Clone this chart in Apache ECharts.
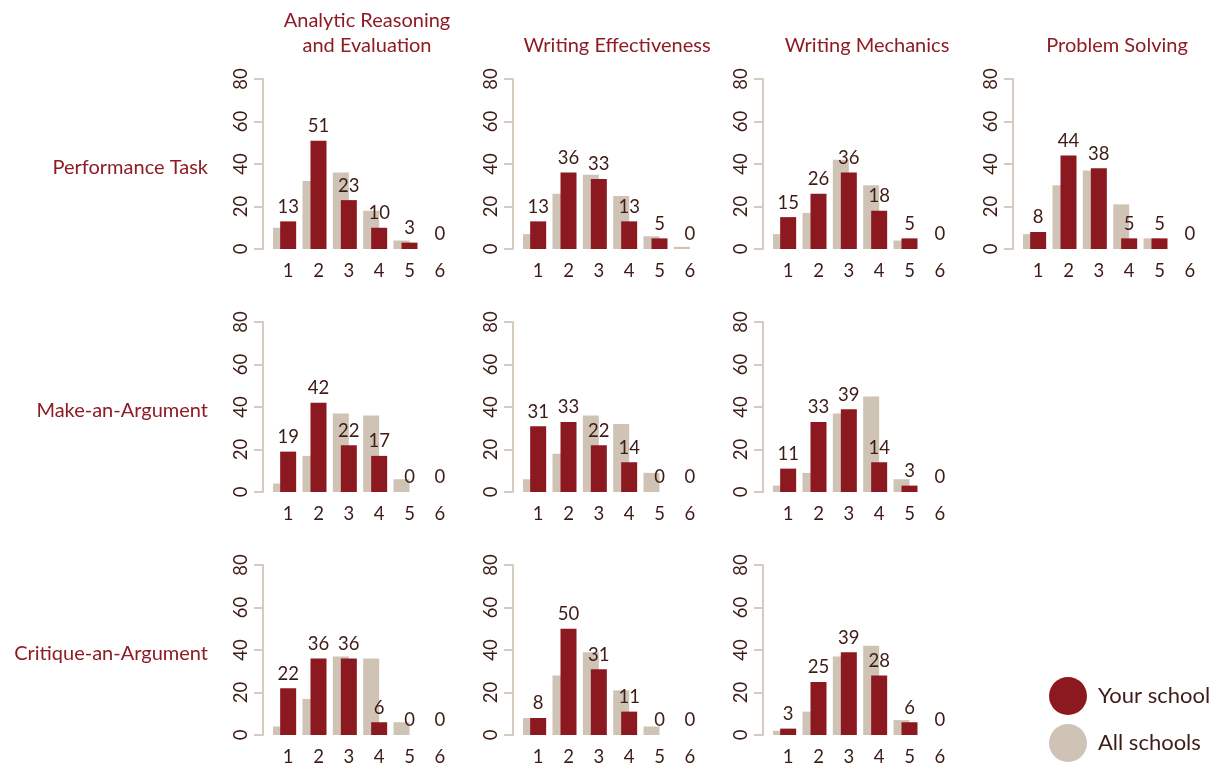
<!DOCTYPE html>
<html>
<head>
<meta charset="utf-8">
<script src="https://cdn.jsdelivr.net/npm/echarts@6/dist/echarts.min.js"></script>
<style>
html,body{margin:0;padding:0;background:#fff;}
#chart{width:1218px;height:768px;}
</style>
</head>
<body>
<div id="chart"></div>
<script>
// ---- data ----
const scoreLevels = ['1', '2', '3', '4', '5', '6'];
const columnTitles = ['Analytic Reasoning\nand Evaluation', 'Writing Effectiveness', 'Writing Mechanics', 'Problem Solving'];
const rowTitles = ['Performance Task', 'Make-an-Argument', 'Critique-an-Argument'];
const legendNames = ['Your school', 'All schools'];

// Performance Task
const ptAnalyticYour = [13, 51, 23, 10, 3, 0];
const ptAnalyticAll  = [10, 32, 36, 18, 4, 0];
const ptWritEffYour  = [13, 36, 33, 13, 5, 0];
const ptWritEffAll   = [7, 26, 35, 25, 6, 1];
const ptWritMechYour = [15, 26, 36, 18, 5, 0];
const ptWritMechAll  = [7, 17, 42, 30, 4, 0];
const ptProblemYour  = [8, 44, 38, 5, 5, 0];
const ptProblemAll   = [7, 30, 37, 21, 5, 0];
// Make-an-Argument
const maAnalyticYour = [19, 42, 22, 17, 0, 0];
const maAnalyticAll  = [4, 17, 37, 36, 6, 0];
const maWritEffYour  = [31, 33, 22, 14, 0, 0];
const maWritEffAll   = [6, 18, 36, 32, 9, 0];
const maWritMechYour = [11, 33, 39, 14, 3, 0];
const maWritMechAll  = [3, 9, 37, 45, 6, 0];
// Critique-an-Argument
const caAnalyticYour = [22, 36, 36, 6, 0, 0];
const caAnalyticAll  = [4, 17, 37, 36, 6, 0];
const caWritEffYour  = [8, 50, 31, 11, 0, 0];
const caWritEffAll   = [8, 28, 39, 21, 4, 0];
const caWritMechYour = [3, 25, 39, 28, 6, 0];
const caWritMechAll  = [2, 11, 37, 42, 7, 0];

const panels = [
  {row: 0, col: 0, your: ptAnalyticYour, all: ptAnalyticAll},
  {row: 0, col: 1, your: ptWritEffYour, all: ptWritEffAll},
  {row: 0, col: 2, your: ptWritMechYour, all: ptWritMechAll},
  {row: 0, col: 3, your: ptProblemYour, all: ptProblemAll},
  {row: 1, col: 0, your: maAnalyticYour, all: maAnalyticAll},
  {row: 1, col: 1, your: maWritEffYour, all: maWritEffAll},
  {row: 1, col: 2, your: maWritMechYour, all: maWritMechAll},
  {row: 2, col: 0, your: caAnalyticYour, all: caAnalyticAll},
  {row: 2, col: 1, your: caWritEffYour, all: caWritEffAll},
  {row: 2, col: 2, your: caWritMechYour, all: caWritMechAll}
];

// ---- style ----
const RED = '#8c1820';
const GRAY = '#cfc3b6';
const AXIS = '#d6cbbf';
const TEXT = '#3d1c16';
const TITLE = '#8e1c24';
const FONT = 'Lato, "Noto Sans", sans-serif';
const NUM_SIZE = 18.5;

const gridLeft0 = 273, colStep = 250, gridW = 182;
const gridTop0 = 79, rowStep = 243, gridH = 170;

const grids = [], xAxes = [], yAxes = [], series = [];
panels.forEach((p, i) => {
  grids.push({left: gridLeft0 + colStep * p.col, top: gridTop0 + rowStep * p.row, width: gridW, height: gridH});
  xAxes.push({
    type: 'category', gridIndex: i, data: scoreLevels,
    axisLine: {show: false}, axisTick: {show: false},
    axisLabel: {color: TEXT, fontSize: NUM_SIZE, fontFamily: FONT, margin: 13}
  });
  yAxes.push({
    type: 'value', gridIndex: i, min: 0, max: 80, interval: 20, offset: 10,
    axisLine: {show: true, lineStyle: {color: AXIS, width: 2}},
    axisTick: {show: true, length: 9, lineStyle: {color: AXIS, width: 2}},
    splitLine: {show: false},
    axisLabel: {rotate: 90, color: TEXT, fontSize: NUM_SIZE, fontFamily: FONT, margin: 12}
  });
  series.push({
    name: legendNames[1], type: 'bar', xAxisIndex: i, yAxisIndex: i, data: p.all,
    barWidth: 16, barGap: '-50%', itemStyle: {color: GRAY}, silent: true
  });
  series.push({
    name: legendNames[0], type: 'bar', xAxisIndex: i, yAxisIndex: i, data: p.your,
    barWidth: 16, barGap: '-50%', itemStyle: {color: RED}, silent: true,
    label: {show: true, position: 'top', distance: 5, color: TEXT, fontSize: NUM_SIZE, fontFamily: FONT}
  });
  // empty spacer so the red bar sits centred on its category and the gray one peeks out on the left
  series.push({
    name: 'spacer', type: 'bar', xAxisIndex: i, yAxisIndex: i, data: scoreLevels.map(() => '-'),
    barWidth: 16, barGap: '-50%', silent: true
  });
});

const graphics = [];
columnTitles.forEach((t, c) => {
  const twoLines = t.indexOf('\n') >= 0;
  graphics.push({
    type: 'text', x: gridLeft0 + colStep * c + gridW / 2 + 3, y: twoLines ? 33 : 46,
    style: {text: t, fill: TITLE, fontSize: 20, fontFamily: FONT, align: 'center', verticalAlign: 'middle', lineHeight: 25}
  });
});
rowTitles.forEach((t, r) => {
  graphics.push({
    type: 'text', x: 208, y: 168 + rowStep * r,
    style: {text: t, fill: TITLE, fontSize: 20, fontFamily: FONT, align: 'right', verticalAlign: 'middle'}
  });
});

const option = {
  backgroundColor: '#ffffff',
  animation: false,
  grid: grids,
  xAxis: xAxes,
  yAxis: yAxes,
  series: series,
  graphic: graphics,
  legend: {
    data: [{name: legendNames[0], itemStyle: {color: RED}}, {name: legendNames[1], itemStyle: {color: GRAY}}],
    orient: 'vertical', left: 1049, top: 677, padding: 0,
    icon: 'circle', itemWidth: 38, itemHeight: 38, itemGap: 9,
    textStyle: {color: TEXT, fontSize: 22, fontFamily: FONT, padding: [0, 0, 0, 6]},
    selectedMode: false
  }
};

const chart = echarts.init(document.getElementById('chart'), null, {renderer: 'canvas'});
chart.setOption(option);
</script>
</body>
</html>
